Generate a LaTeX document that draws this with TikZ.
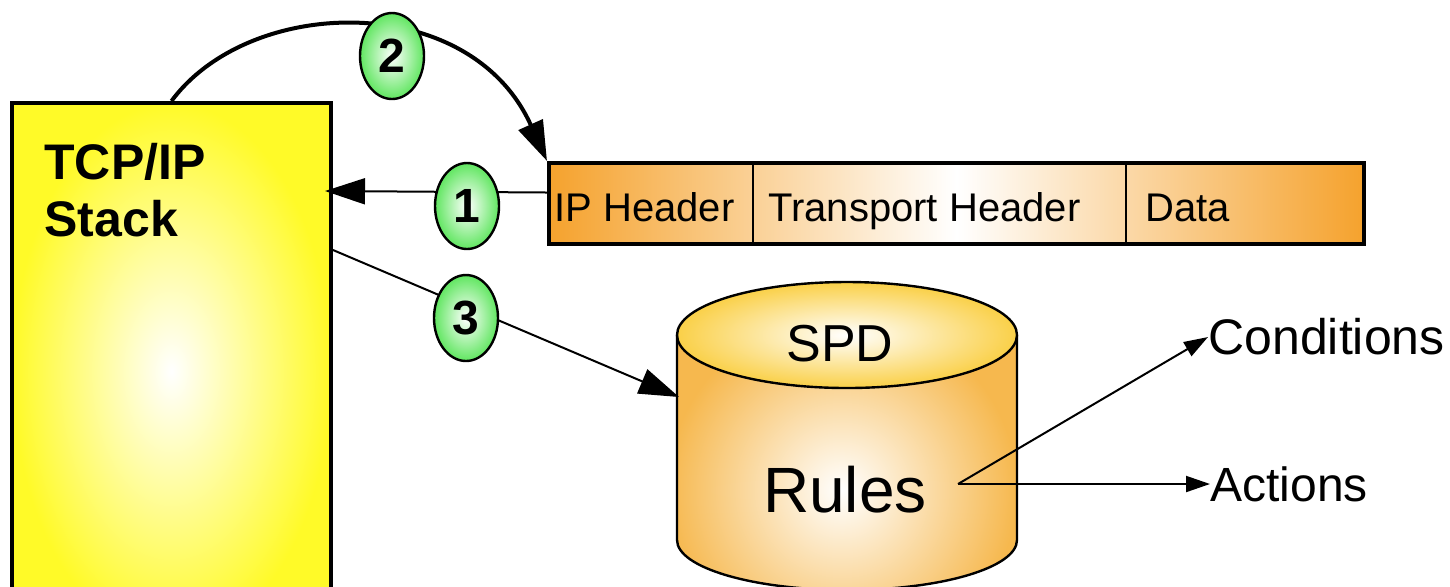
\documentclass[tikz,border=0pt]{standalone}
\usepackage{fontspec}
\setmainfont{Liberation Sans}
\usetikzlibrary{calc,arrows.meta,shapes.geometric}
\definecolor{stackyellow}{RGB}{255,250,40}
\definecolor{pktorange}{RGB}{245,162,45}
\definecolor{cylorange}{RGB}{246,184,78}
\definecolor{cyltop}{RGB}{250,208,72}
\definecolor{badgegreen}{RGB}{96,230,96}
\tikzset{
	stackbox/.style={draw=black, line width=2pt, inner color=white, outer color=stackyellow, minimum width=159.5pt, minimum height=268.5pt, inner sep=0pt},
	packet/.style={draw=black, line width=2pt, left color=pktorange, right color=pktorange, middle color=white, minimum width=407.5pt, minimum height=40.5pt, inner sep=0pt},
	pktlabel/.style={anchor=base west, inner sep=0pt, font=\fontsize{20}{24}\selectfont},
	badge/.style={ellipse, draw=black, line width=1.2pt, inner color=white, outer color=badgegreen, minimum width=32pt, minimum height=43pt, inner sep=0pt, font=\bfseries\fontsize{24}{24}\selectfont},
	bigarrow/.style={-{Triangle[length=20pt,width=13pt]}, line width=1pt},
	smallarrow/.style={-{Triangle[length=12pt,width=8pt]}, line width=1pt},
	biglabel/.style={anchor=west, inner sep=0pt, font=\fontsize{24}{28}\selectfont}
}
\begin{document}
\begin{tikzpicture}[x=0.5pt, y=-0.5pt]
		%%%%% START %%%%%
		\useasboundingbox (0,0) rectangle (1450,586);
		\clip (0,0) rectangle (1450,586);
		
		% stack
		\node[stackbox] (stack) at (171.5,371.5) {};
		\node[anchor=north west, align=left, inner sep=0pt, font=\bfseries\fontsize{25}{28.5}\selectfont] (stacktxt) at (44,143) {TCP/IP\\Stack};
		
		% packet
		\node[packet] (pkt) at (956.5,203.5) {};
		\draw[line width=1pt] ($(pkt.north west)+(206,0)$) -- ($(pkt.south west)+(206,0)$);
		\draw[line width=1pt] ($(pkt.north west)+(579,0)$) -- ($(pkt.south west)+(579,0)$);
		\node[pktlabel] (iphdr) at ($(pkt.west)+(7,18)$) {IP Header};
		\node[pktlabel] (transhdr) at ($(pkt.west)+(221,18)$) {Transport Header};
		\node[pktlabel] (data) at ($(pkt.west)+(598,18)$) {Data};
		
		% SPD cylinder
		\fill[cylorange] (677,335) -- (677,540) arc (180:0:170 and 50) -- (1017,335) -- cycle;
		\begin{scope}
			\clip (677,335) -- (677,540) arc (180:0:170 and 50) -- (1017,335) -- cycle;
			\shade[inner color=white, outer color=cylorange] (842,490) circle (175);
		\end{scope}
		\draw[line width=1.2pt] (677,335) -- (677,540) arc (180:0:170 and 50) -- (1017,335);
		\shade[draw=black, line width=1.2pt, inner color=white, outer color=cyltop] (847,335) ellipse (170 and 53);
		\coordinate (cylleft) at (679,397);
		\node[inner sep=0pt, font=\fontsize{26}{30}\selectfont] (spd) at (840,344) {SPD};
		\node[inner sep=0pt, font=\fontsize{32}{36}\selectfont] (rules) at (845,490) {Rules};
		\coordinate (fork) at (958,484);
		\node[biglabel, font=\fontsize{25}{28}\selectfont] (cond) at (1208,337) {Conditions};
		\node[biglabel] (act) at (1210,484) {Actions};
		
		% arrows
		\draw[bigarrow] ($(pkt.west)+(0,-11)$) -- ($(stack.north east)+(-8,90)$);
		\draw[bigarrow, line width=2pt] (stack.north) .. controls (250,-5) and (470,-10) .. (pkt.north west);
		\draw[bigarrow] ($(stack.north east)+(0,149)$) -- (cylleft);
		\draw[smallarrow] (fork) -- (cond.west);
		\draw[smallarrow] (fork) -- (act.west);
		
		\node[badge] (b1) at (467,206) {1};
		\node[badge] (b2) at (392,56) {2};
		\node[badge] (b3) at (466,318) {3};
		%%%%% END %%%%%
\end{tikzpicture}
\end{document}
